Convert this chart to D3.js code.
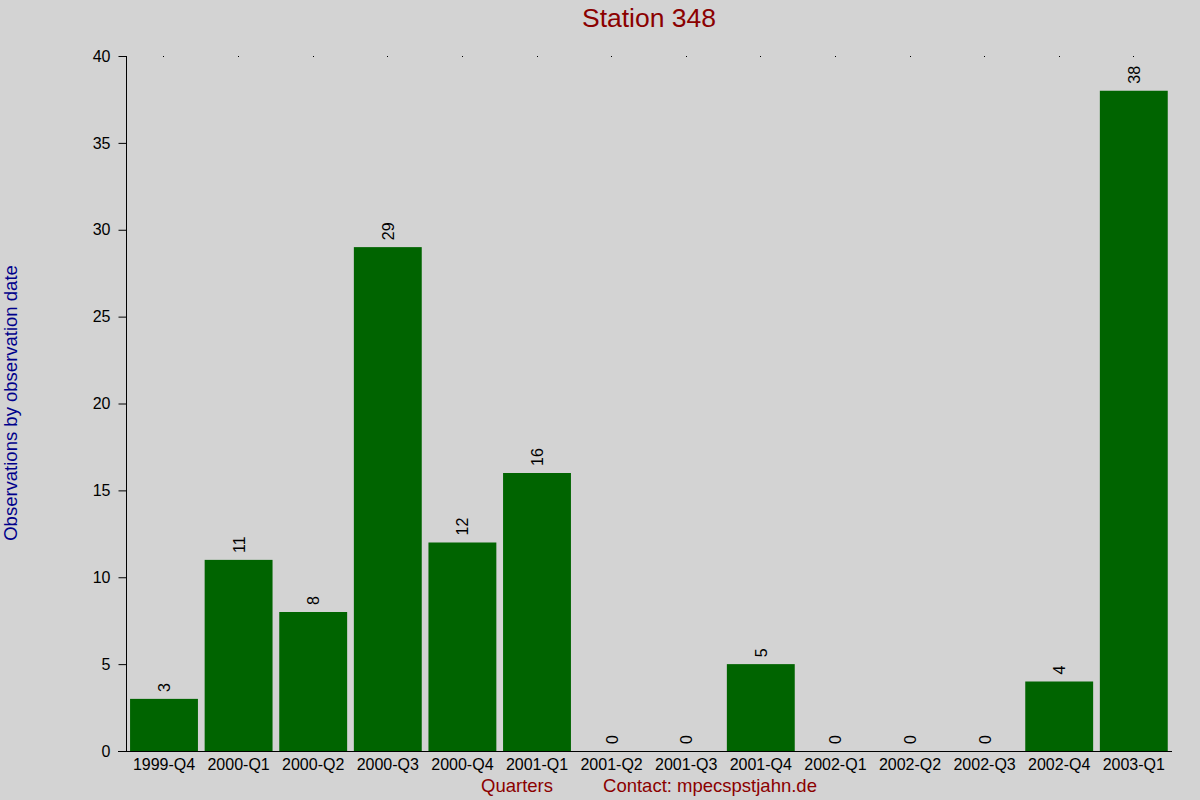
<!DOCTYPE html>
<html>
<head>
<meta charset="utf-8">
<script src="https://cdn.jsdelivr.net/npm/d3@7"></script>
<style>
  body { margin: 0; background: #d3d3d3; }
  text { font-family: "Liberation Sans", Arial, sans-serif; }
</style>
</head>
<body>
<script>
var quarters = ["1999-Q4", "2000-Q1", "2000-Q2", "2000-Q3", "2000-Q4", "2001-Q1", "2001-Q2",
                "2001-Q3", "2001-Q4", "2002-Q1", "2002-Q2", "2002-Q3", "2002-Q4", "2003-Q1"];
var observations = [3, 11, 8, 29, 12, 16, 0, 0, 5, 0, 0, 0, 4, 38];
var yTicks = [0, 5, 10, 15, 20, 25, 30, 35, 40];

window.onload = drawChart();

function drawChart(){
    var w = 1200, h = 800;

    var svg = d3.select("body")
        .append("svg")
        .attr("width", w)
        .attr("height", h)
        .style("background", "#d3d3d3");

    var x = d3.scaleBand()
        .domain(quarters)
        .range([126.7, 1171.1])
        .paddingInner(0.09)
        .paddingOuter(0.045);

    var y = d3.scaleLinear()
        .domain([0, 40])
        .range([751, 56]);

    //title
    svg.append("text")
        .attr("x", 649)
        .attr("y", 27)
        .attr("text-anchor", "middle")
        .attr("fill", "#8b0000")
        .style("font-size", "26.5px")
        .text("Station 348");

    //bars
    svg.selectAll(".bar")
        .data(observations)
        .enter()
        .append("rect")
        .attr("class", "bar")
        .attr("x", function(d, i){ return x(quarters[i]); })
        .attr("y", function(d){ return y(d); })
        .attr("width", x.bandwidth())
        .attr("height", function(d){ return y(0) - y(d); })
        .attr("fill", "#006400");

    //value labels
    svg.selectAll(".val")
        .data(observations)
        .enter()
        .append("text")
        .attr("class", "val")
        .attr("transform", function(d, i){
            var cx = x(quarters[i]) + x.bandwidth() / 2 + 6;
            return "translate(" + cx + "," + (y(d) - 7) + ") rotate(-90)";
        })
        .attr("text-anchor", "start")
        .attr("fill", "#000")
        .style("font-size", "16px")
        .text(function(d){ return d; });

    //dots on the top line
    svg.selectAll(".dot")
        .data(quarters)
        .enter()
        .append("rect")
        .attr("class", "dot")
        .attr("x", function(d){ return Math.floor(x(d) + x.bandwidth() / 2); })
        .attr("y", y(40))
        .attr("width", 1)
        .attr("height", 1)
        .attr("shape-rendering", "crispEdges")
        .attr("fill", "#000");

    //y axis
    var yAxis = svg.append("g")
        .attr("transform", "translate(126.5,0)")
        .call(d3.axisLeft(y).tickValues(yTicks).tickSize(8).tickPadding(8));
    yAxis.select(".domain").attr("d", "M0," + y(40) + "V" + y(0));
    yAxis.selectAll("text").style("font-size", "16px").attr("fill", "#000");

    //x axis
    var xAxis = svg.append("g")
        .attr("transform", "translate(0," + (y(0) + 0.5) + ")")
        .call(d3.axisBottom(x).tickSize(0).tickPadding(7));
    xAxis.select(".domain").attr("d", "M118,0H1172");
    xAxis.selectAll("text").style("font-size", "16px").attr("fill", "#000");

    //axis titles
    svg.append("text")
        .attr("transform", "translate(17,403) rotate(-90)")
        .attr("text-anchor", "middle")
        .attr("fill", "#00008b")
        .style("font-size", "18.5px")
        .text("Observations by observation date");

    svg.append("text")
        .attr("x", 517)
        .attr("y", 792)
        .attr("text-anchor", "middle")
        .attr("fill", "#8b0000")
        .style("font-size", "18.5px")
        .text("Quarters");

    svg.append("text")
        .attr("x", 710)
        .attr("y", 792)
        .attr("text-anchor", "middle")
        .attr("fill", "#8b0000")
        .style("font-size", "18.5px")
        .text("Contact: mpecspstjahn.de");
}
</script>
</body>
</html>
